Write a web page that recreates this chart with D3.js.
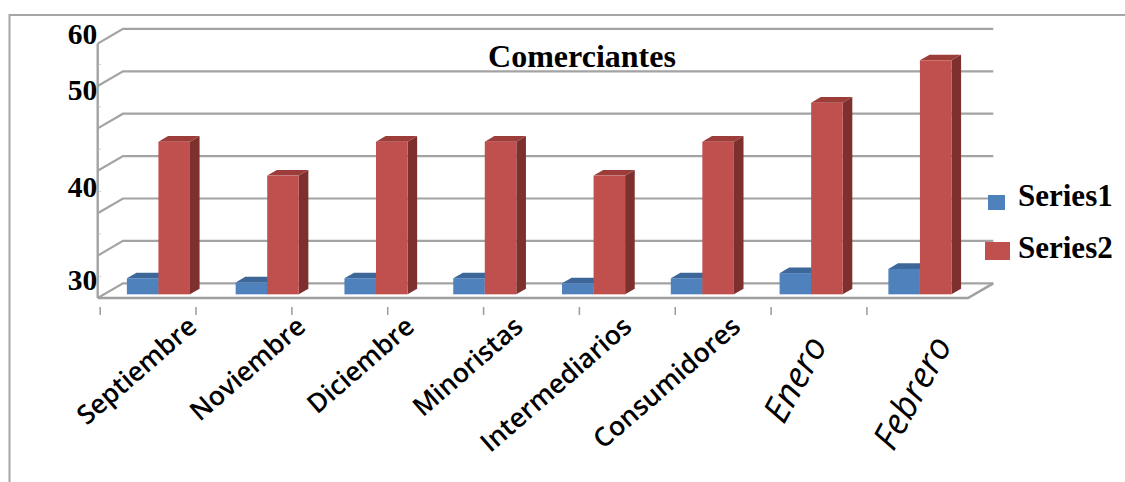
<!DOCTYPE html>
<html>
<head>
<meta charset="utf-8">
<script src="https://cdn.jsdelivr.net/npm/d3@7"></script>
<style>
  html, body { margin: 0; padding: 0; background: #fff; }
  svg { display: block; }
</style>
</head>
<body>
<svg id="chart" width="1125" height="482"></svg>
<script>
// ---- data ----
const categories = ["Septiembre", "Noviembre", "Diciembre", "Minoristas", "Intermediarios", "Consumidores", "Enero", "Febrero"];
const seriesNames = ["Series1", "Series2"];
const series1 = [31.9, 31.4, 31.9, 31.9, 31.3, 31.9, 32.5, 33.0];
const series2 = [48.0, 44.0, 48.0, 48.0, 44.0, 48.0, 52.6, 57.6];
const gridTicks = [30, 35, 40, 45, 50, 55, 60];
const yTickLabels = ["60", "50", "40", "30"];
const titleText = "Comerciantes";

// ---- layout / style (not data) ----
const W = 1125, H = 482;
const plot = { left: 97.7, right: 968, bottom: 298, top: 43.6 };
const DX = 25.3, DY = -14.7;            // oblique depth vector (floor front -> back wall)
const zFront = 0.25, zBack = 0.63;      // bar depth slice
const yLabelAt = [59.95, 53.3, 41.9, 30.9]; // where the reference prints each label (value units)
const italicCats = new Set(["Enero", "Febrero"]);
const colors = {
  Series1: { front: "#4f81bd", top: "#3d6799", side: "#365b88" },
  Series2: { front: "#c0504d", top: "#9c3d3a", side: "#7d302e" }
};
const grid = "#a3a3a3";

const svg = d3.select("#chart");
svg.append("rect").attr("width", W).attr("height", H).attr("fill", "#fff");

// outer frame
svg.append("path")
  .attr("d", `M9.5,${H} V15 H${W}`)
  .attr("fill", "none").attr("stroke", "#a6a6a6").attr("stroke-width", 2);

const y = d3.scaleLinear().domain([30, 60]).range([plot.bottom, plot.top]);
const x = d3.scaleBand().domain(categories).range([plot.left, plot.right])
  .paddingInner(0.42).paddingOuter(0.21);
const xs = d3.scaleBand().domain(seriesNames).range([0, x.bandwidth()]);

// gridlines on side wall + back wall
const gridG = svg.append("g");
gridTicks.forEach(t => {
  gridG.append("path")
    .attr("d", `M${plot.left},${y(t)} L${plot.left + DX},${y(t) + DY} L${plot.right + DX},${y(t) + DY}`)
    .attr("fill", "none").attr("stroke", grid).attr("stroke-width", 2.2);
});
// left wall vertical edge
gridG.append("line")
  .attr("x1", plot.left).attr("x2", plot.left)
  .attr("y1", y(60)).attr("y2", y(30))
  .attr("stroke", grid).attr("stroke-width", 2.4);
// minor marks on the wall
d3.range(32.5, 60, 5).forEach(v => {
  gridG.append("rect").attr("x", plot.left + 2).attr("y", y(v) - 1)
    .attr("width", 1.2).attr("height", 1.2).attr("fill", "#bbb");
});
// floor front edge and right edge
gridG.append("path")
  .attr("d", `M${plot.left},${y(30)} L${plot.right},${y(30)} L${plot.right + DX},${y(30) + DY}`)
  .attr("fill", "none").attr("stroke", "#a0a0a0").attr("stroke-width", 2.6);

// category tick marks (as drawn in the reference, slightly compressed)
const tickX = d3.scaleLinear().domain([0, categories.length])
  .range([plot.left + 2.5, plot.left + 2.5 + 0.881 * (plot.right - plot.left)]);
d3.range(categories.length + 1).forEach(i => {
  svg.append("line")
    .attr("x1", tickX(i)).attr("x2", tickX(i))
    .attr("y1", 307).attr("y2", 315)
    .attr("stroke", "#9a9a9a").attr("stroke-width", 1.5);
});

// bars
const dz = zBack - zFront;
const barsG = svg.append("g");
const seriesData = [series1, series2];
categories.forEach((c, i) => {
  seriesNames.forEach((s, k) => {
    const v = seriesData[k][i];
    const col = colors[s];
    const x0 = x(c) + xs(s) + zFront * DX;
    const x1 = x0 + xs.bandwidth();
    const yT = y(v) + zFront * DY;
    const yB = y(30) + zFront * DY;
    const g = barsG.append("g");
    g.append("path")
      .attr("d", `M${x1},${yT} L${x1 + dz * DX},${yT + dz * DY} L${x1 + dz * DX},${yB + dz * DY} L${x1},${yB} Z`)
      .attr("fill", col.side);
    g.append("path")
      .attr("d", `M${x0},${yT} L${x1},${yT} L${x1 + dz * DX},${yT + dz * DY} L${x0 + dz * DX},${yT + dz * DY} Z`)
      .attr("fill", col.top);
    g.append("rect")
      .attr("x", x0).attr("y", yT)
      .attr("width", xs.bandwidth()).attr("height", yB - yT)
      .attr("fill", col.front);
  });
});

// category labels
categories.forEach(c => {
  const cx = x(c) + x.bandwidth() / 2 + zFront * DX;
  const it = italicCats.has(c);
  const ax = it ? cx + (c === "Enero" ? 17 : 33) : cx + 40;
  const ay = it ? 345 : 329;
  svg.append("text")
    .attr("transform", `translate(${ax},${ay}) rotate(${it ? -61 : -41})`)
    .attr("text-anchor", "end")
    .attr("font-family", "'Open Sans', sans-serif")
    .attr("font-weight", it ? 500 : 600)
    .attr("font-style", it ? "italic" : "normal")
    .attr("font-size", it ? 36 : 26.5)
    .attr("fill", "#000")
    .text(c);
});

// y labels
yTickLabels.forEach((t, i) => {
  svg.append("text")
    .attr("x", plot.left - 0.5).attr("y", y(yLabelAt[i]))
    .attr("text-anchor", "end")
    .attr("font-family", "'Liberation Serif', 'Times New Roman', serif")
    .attr("font-weight", "bold").attr("font-size", 29.5)
    .attr("fill", "#000")
    .text(t);
});

// title
svg.append("text")
  .attr("x", 582).attr("y", 67)
  .attr("text-anchor", "middle")
  .attr("font-family", "'Liberation Serif', 'Times New Roman', serif")
  .attr("font-weight", "bold").attr("font-size", 32)
  .text(titleText);

// legend
const legend = svg.append("g");
const keySizes = { Series1: [17, 15], Series2: [25, 18] };
const keyPos = { Series1: [988, 195], Series2: [985, 242] };
const textBase = { Series1: 206, Series2: 258 };
seriesNames.forEach(s => {
  legend.append("rect")
    .attr("x", keyPos[s][0]).attr("y", keyPos[s][1])
    .attr("width", keySizes[s][0]).attr("height", keySizes[s][1])
    .attr("fill", colors[s].front);
  legend.append("text")
    .attr("x", 1018).attr("y", textBase[s])
    .attr("font-family", "'Liberation Serif', 'Times New Roman', serif")
    .attr("font-weight", "bold").attr("font-size", 31)
    .text(s);
});
</script>
</body>
</html>
